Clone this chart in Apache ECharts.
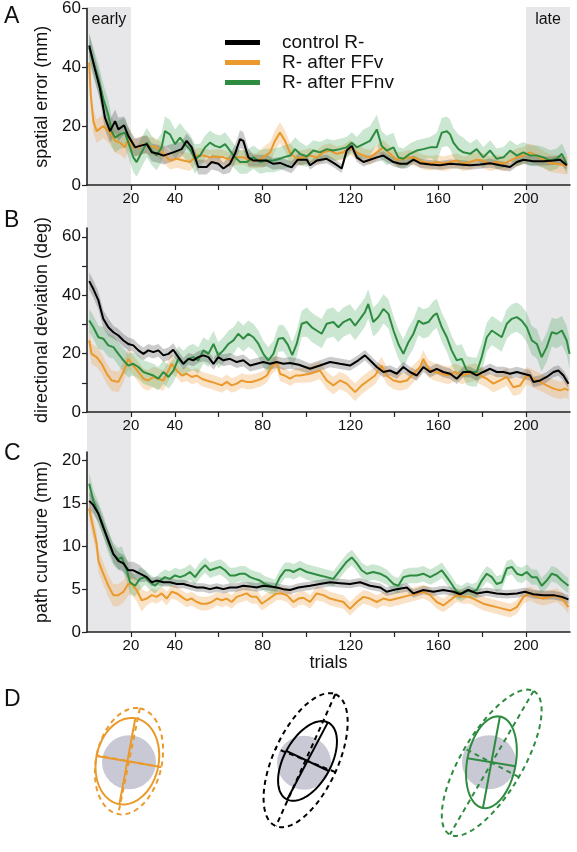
<!DOCTYPE html>
<html><head><meta charset="utf-8">
<script src="https://cdn.jsdelivr.net/npm/echarts@6/dist/echarts.min.js"></script>
<style>html,body{margin:0;padding:0;background:#fff}#c{width:577px;height:852px}</style>
</head><body><div id="c"></div>
<script>
// ---------- DATA ----------
const seriesNames = ['control R-', 'R- after FFv', 'R- after FFnv'];
const xTicks = [20, 40, 60, 80, 100, 120, 140, 160, 180, 200];
const xTickLabels = [20, 40, 80, 120, 160, 200];
const earlyRange = [0, 20];
const lateRange = [200, 220];

// Panel A: spatial error (mm)
const A_ctrl = [[1,47.4],[3.6,39.4],[5.9,32.8],[8.2,22.8],[10.5,18.3],[12.8,21.7],[14.3,18.9],[16.9,20.3],[18.8,16.7],[21.9,12.8],[24.1,13.3],[27.2,13.9],[29.5,11.1],[32.5,10.6],[34.8,10],[39.3,11.1],[43.1,12.2],[45.4,15],[47.7,12.8],[50.7,6.1],[54.5,6.1],[56.8,7.8],[59.8,7.2],[62.1,5.6],[65.1,7.2],[67.4,10.6],[69.7,15.6],[71.2,15],[73.5,9.4],[75.8,8.3],[78.8,8.3],[81.9,8.3],[84.9,7.2],[87.9,7.5],[91,6.6],[93.2,6],[96,8.6],[100.1,8.6],[101.6,6.7],[104.6,8.3],[109.2,8.9],[113,7.2],[116,5.6],[118.3,11.7],[120.6,13.3],[122.9,9.4],[125.9,7.8],[128.9,8.6],[132,9.4],[135,10],[137.3,8.9],[139.6,7.8],[142.6,7.2],[145.7,7.2],[148.7,8.6],[151.7,7.4],[156.3,7],[160.8,6.7],[165.4,7.2],[170,7],[174.5,6.7],[179.1,7],[183.6,7.4],[188.2,6.7],[192.7,6.1],[195.8,7.8],[198.8,8.6],[203.3,8.1],[207.9,8.1],[212.5,8.3],[215.5,8.6],[218.5,6.7]];
const A_ffv = [[1,41.7],[1.7,30.6],[2.9,21.7],[4.4,18.3],[7.4,20],[10.5,17.8],[12.8,15],[15,14.4],[17.3,12.8],[18.8,15.6],[21.1,12.8],[23.4,12.8],[25.7,13.9],[28.7,13.3],[31.7,12.8],[34.8,10.6],[37.8,8.3],[40.9,8.9],[43.9,8.3],[46.9,7.8],[50,10],[53,10],[56,9.4],[59.1,9.7],[62.1,9.4],[65.1,8.6],[68.2,9.4],[71.2,9.4],[74.3,8.3],[77.3,8.3],[80.3,9.4],[83.4,11.1],[85.6,15],[87.9,17.8],[90.2,15],[92.5,10.8],[95.5,9.1],[98.6,9.4],[101.6,10],[104.6,9.4],[107.7,11.1],[110.7,11.7],[113.7,10.6],[116.8,11.1],[119.8,12.8],[122.9,11.1],[125.9,10],[128.9,9.4],[132,11.1],[135,12.8],[138,10.6],[141.1,8.6],[144.1,8.9],[147.1,9.4],[150.2,8.9],[153.2,7.8],[156.3,7.4],[159.3,7.8],[162.3,7.2],[165.4,7.8],[168.4,8.3],[171.4,7.2],[174.5,7.8],[177.5,8.6],[180.5,8.3],[183.6,7.2],[186.6,7.8],[189.7,7.2],[192.7,8.3],[195.8,9.4],[198.8,10],[201.8,11.1],[204.9,10],[207.9,8.6],[210.9,7.4],[214,7.2],[217,6.7],[219,6.7]];
const A_ffnv = [[1,46.7],[2.9,41.7],[5.2,36.1],[7.4,29.4],[9.7,23.9],[11.2,18.3],[12.8,16.1],[15,17.2],[17.3,17.8],[19.6,12.8],[21.1,9.4],[22.6,7.8],[24.9,11.1],[27.2,14.4],[29.5,11.7],[31.7,10],[34,12.8],[35.5,18.3],[37.8,17.2],[40.1,13.9],[42.4,16.1],[44.6,13.9],[46.9,12.2],[49.2,8.9],[51.5,10],[53.8,12.8],[56,14.4],[58.3,13.3],[60.6,12.8],[62.9,13.9],[65.1,11.7],[67.4,9.4],[69.7,7.8],[72.7,7.8],[75.8,9.4],[78.8,7.8],[81.9,8.3],[84.9,8.3],[87.9,8.9],[89.4,9.4],[92.5,10],[94.8,12.2],[97,10.6],[100.1,9.7],[103.1,11.7],[106.1,11.1],[109.2,12.2],[112.2,11.7],[115.2,12.2],[118.3,12.8],[120.6,14.4],[122.9,12.8],[125.9,13.9],[128.9,15],[132,18.9],[134.2,13.3],[136.5,11.7],[139.6,12.8],[141.8,9.4],[144.1,8.9],[147.1,10.6],[150.2,11.7],[153.2,12.2],[156.3,12.8],[159.3,12.8],[161.6,17.8],[163.9,18.3],[165.4,17.2],[166.9,14.4],[169.2,12.2],[171.4,11.1],[174.5,10.6],[177.5,12.2],[180.5,9.4],[183.6,11.7],[186.6,8.9],[189.7,9.4],[192.7,11.7],[195.8,10],[198.8,11.1],[201.8,10],[204.9,10],[207.9,9.4],[210.9,8.3],[214,8.9],[216.3,10.6],[218.5,7.2]];
const A_ctrl_sd = [[0,4],[16,3],[40,2.5],[60,2],[65,3],[75,2],[100,1.5]];
const A_ffv_sd = [[0,4],[20,3],[50,2.5],[80,3.5],[95,2.5],[190,3]];
const A_ffnv_sd = [[0,5],[50,4],[100,3.5],[125,5],[140,3.5],[158,5],[172,3.5]];

// Panel B: directional deviation (deg)
const B_ctrl = [[1,44.8],[2.9,42.1],[5.2,38.2],[7.4,31.9],[9.7,29],[12,27.3],[14.3,26.2],[16.6,24.5],[18.8,23.3],[21.1,22.8],[23.4,21.1],[25.7,19.9],[27.9,21.1],[30.2,20.5],[32.5,21.1],[34.8,19.4],[37.1,19.9],[39.3,21.3],[41.6,18.8],[43.9,16.5],[46.2,18.2],[48.4,17.7],[50.7,18.8],[53,19.4],[55.3,18.8],[57.6,16.5],[59.8,18.8],[62.1,17.7],[65.1,18.2],[68.2,17.1],[71.2,17.7],[74.3,15.9],[77.3,16.5],[80.3,17.1],[83.4,16.5],[86.4,17.1],[89.4,16.5],[92.5,16.8],[96.5,16.2],[101.6,14.8],[106.1,15.9],[110.7,17.1],[115.2,16.5],[119.8,15.9],[123.6,17.7],[126.6,19.4],[128.9,17.7],[132,15.4],[135,13.7],[138,14.2],[141.1,13.1],[144.1,15.4],[147.1,13.7],[150.2,12.5],[153.2,15.4],[156.3,13.7],[159.3,14.8],[162.3,13.7],[165.4,13.1],[168.4,11.4],[171.4,13.7],[174.5,13.7],[177.5,12.5],[180.5,13.7],[183.6,14.8],[186.6,13.7],[189.7,13.7],[192.7,13.1],[195.8,13.7],[198.8,13.1],[201.8,12.5],[203.3,10.3],[206.4,10.8],[209.4,12],[212.5,13.7],[214.7,14.2],[217,12.5],[219.3,9.7]];
const B_ffv = [[1,24.5],[2.1,19.9],[4.4,18.8],[6.7,16.5],[9,13.1],[11.2,10.8],[14.3,10.3],[16.6,13.7],[18.8,18.2],[21.1,15.9],[23.4,13.7],[25.7,11.4],[27.9,10.8],[30.2,12],[32.5,11.4],[34.8,10.8],[37.1,14.2],[38.6,16.5],[40.9,14.2],[43.1,12.5],[45.4,13.1],[47.7,12],[50,12.5],[52.2,11.4],[54.5,10.8],[56.8,10.3],[59.1,9.7],[61.4,9.1],[63.6,10.3],[65.9,9.1],[68.2,9.7],[70.5,10.8],[72.7,10.3],[75,10.3],[77.3,10.8],[79.6,11.4],[81.9,12.5],[84.1,15.4],[86.4,17],[88,13],[90,12.5],[92.5,11.4],[95,12.5],[97,12.5],[101.6,13.1],[106.1,14.2],[109.2,10.8],[112.2,9.1],[115.2,10.8],[118.3,9.7],[122.1,6.8],[125.1,9.1],[128.1,10.8],[131.2,12.5],[134.2,15.9],[136.5,12.5],[139.6,10.8],[142.6,10.3],[145.7,10.8],[148.7,13.1],[151.7,15.4],[153.2,18.2],[155.5,14.8],[158.5,13.7],[161.6,13.1],[164.6,12.5],[167.6,13.7],[170.7,12.5],[173.7,13.1],[176.8,13.7],[179,12.5],[182.1,11.4],[185.1,9.7],[188.1,10.8],[191.2,12],[194.2,8.5],[197.3,9.1],[200.3,12.5],[203.3,11.4],[206.4,10.3],[209.4,9.1],[212.5,8],[215.5,7.4],[217.8,8],[219.3,7.4]];
const B_ffnv = [[1,31.3],[2.9,29],[5.2,25.6],[7.4,25.1],[9.7,22.8],[12,22.2],[14.3,19.9],[16.6,17.7],[18.8,15.9],[21.1,16.5],[23.4,15.4],[25.7,13.7],[27.9,13.1],[30.2,12.5],[32.5,11.4],[34.8,13.7],[37.1,12],[39.4,14.2],[41.6,18.2],[43.9,16.5],[46.2,18.2],[48.4,18.8],[50.7,17.7],[53,21.1],[55.3,19.9],[57.6,23.3],[59.8,19.4],[62.1,21.1],[64.4,23.3],[66.7,24.5],[68.9,26.8],[71.2,25.1],[73.5,26.8],[75.8,25.6],[78.1,23.3],[80.3,19.9],[82.6,17.7],[84.9,19.9],[87.2,25.1],[89.4,25.3],[91.5,23],[93.5,19.5],[95.5,23.3],[97.8,30.2],[100.1,30.8],[102.4,29],[104.6,27.9],[106.9,26.8],[109.2,30.2],[112.2,30.8],[114.5,29],[116.8,30.8],[119.8,31.9],[122.1,29.6],[124.4,31.9],[126.6,34.2],[128.1,37],[130.4,30.8],[132.7,32.5],[135,35.3],[137.3,33.6],[139.6,27.9],[141.8,23.3],[144.1,19.9],[146.4,23.9],[148.7,26.8],[151,31.3],[153.2,30.2],[155.5,30.8],[157.8,33],[159.3,33.8],[161.6,29],[163.9,25.6],[166.1,21.1],[168.4,17.7],[170.7,18.2],[173,14.2],[175.3,13.7],[177.5,13.7],[179.8,18.8],[182.1,25.6],[184.4,27.9],[186.6,26.8],[188.9,25.6],[191.2,30.2],[193.5,31.9],[195.8,32.5],[198,31.3],[200.3,29],[202.6,24.5],[204.9,23.3],[207.1,18.8],[209.4,22.2],[211.7,27.3],[214,26.8],[216.3,27.9],[218.5,24.5],[219.8,19.9]];
const B_ctrl_sd = [[0,3],[12,2.2],[40,2],[100,1.8]];
const B_ffv_sd = [[0,3.5],[40,2.5],[100,3]];
const B_ffnv_sd = [[0,4],[40,4.5],[100,5]];

// Panel C: path curvature (mm)
const C_ctrl = [[1,15.3],[2.9,14.8],[5.2,13.8],[7.4,12.2],[9.7,10.7],[12,9.1],[14.3,8.3],[16.6,8],[18.8,7.2],[21.1,7.2],[24.1,6.8],[27.2,6.4],[29.5,5.8],[31.7,6],[34.8,5.8],[37.8,5.8],[40.9,5.6],[43.9,5.6],[46.9,5.4],[50,5.2],[53,5.2],[56,5],[59.1,5.2],[62.1,5],[65.1,5.2],[68.2,5.2],[71.2,5.4],[74.3,5.3],[77.3,5.2],[80.3,5.4],[83.4,5.3],[86.4,5.2],[89.4,5],[92.5,4.9],[96.3,5.2],[101.6,5.4],[106.1,5.6],[110.7,5.8],[115.2,5.7],[119.8,5.6],[124.4,5.8],[128.9,5.4],[133.5,5.2],[136.5,4.7],[141.1,5],[145.7,5.2],[148.7,4.5],[153.2,4.9],[157.8,4.7],[162.3,4.9],[166.9,4.7],[169.9,4.4],[173.7,4.9],[177.5,4.5],[182.1,4.7],[186.6,4.5],[191.2,4.4],[195.8,4.5],[199.5,4.7],[203.3,4.4],[207.9,4.3],[212.5,4.3],[216.3,4.1],[219.3,3.8]];
const C_ffv = [[1,14.4],[2.1,13],[4.4,10.3],[5.2,8.3],[7.4,6.8],[9.7,5.4],[12,4.3],[14.3,4.3],[16.6,4.7],[18.8,5.6],[20.4,5.6],[22.6,4.9],[24.9,3.7],[27.2,3.9],[29.5,4.3],[31.7,4.1],[34,4.5],[36.3,3.9],[38.6,4.7],[40.9,4.5],[43.1,4.1],[45.4,3.7],[47.7,3.9],[50,3.5],[52.2,3.3],[54.5,3.3],[56.8,3.5],[59.1,3.9],[61.4,3.7],[63.6,3.9],[65.9,3.5],[68.2,4.1],[70.5,4.3],[72.7,4.5],[75,4.1],[77.3,4.1],[79.6,3.3],[81.9,3.7],[84.1,4.1],[86.4,4.5],[88.7,4.5],[91,4.3],[94,3.5],[96.3,3.9],[98.6,4],[101.6,3.5],[104.6,4.5],[107.7,4.3],[110.7,3.9],[113.7,3.7],[116.8,3.5],[119.8,2.7],[122.9,3.5],[125.9,4.1],[128.9,3.9],[132,3.5],[135,3.9],[138,3.7],[141.1,3.9],[144.1,4.1],[147.1,4.3],[150.2,4.5],[153.2,4.7],[156.3,4.3],[159.3,3.5],[162.3,3.1],[165.4,3.7],[168.4,4.3],[171.4,4.1],[174.5,4.1],[177.5,3.7],[180.5,3.3],[183.6,3.1],[186.6,2.9],[189.7,2.7],[192.7,2.5],[195.8,2.9],[198.8,4.1],[201.8,4.5],[204.9,4.1],[207.9,3.9],[210.9,4.1],[214,4.3],[217,3.7],[219.3,2.9]];
const C_ffnv = [[1,17.3],[2.9,15.3],[5.2,13.8],[7.4,12.4],[9.7,10.5],[12,9.1],[14.3,8.5],[15.8,8.7],[18.1,7.2],[19.6,5.8],[21.9,5.4],[24.1,6.2],[26.4,6.4],[28.7,5.8],[31,5.4],[33.3,6],[35.5,6.4],[37.8,6.2],[40.1,6.6],[42.4,6.4],[44.6,6.6],[46.9,7],[49.2,6.4],[51.5,7.2],[53.8,7.8],[56,7.2],[58.3,7.4],[60.6,7.6],[62.9,7.2],[65.1,6.6],[67.4,6.6],[69.7,6.8],[72,6.8],[74.3,6.4],[76.5,6.2],[78.8,6],[81.1,5.6],[83.4,5.4],[85.6,5.2],[87.9,6.4],[90.2,7.2],[92.5,7.2],[94,7],[97,7.4],[100.1,7],[103.1,6.8],[106.1,6.6],[109.2,6.4],[112.2,6.2],[115.2,7.2],[118.3,8.2],[120.6,8.7],[122.9,8],[125.1,7.2],[127.4,6.8],[130.4,7],[133.5,6.8],[136.5,6.4],[139.6,5.6],[141.8,5.4],[144.1,6.4],[147.1,6.6],[150.2,6.6],[153.2,6.8],[156.3,6.4],[159.3,6.8],[161.6,7.2],[163.9,6.4],[166.1,5.6],[168.4,4.7],[170.7,4.5],[173,4.9],[175.3,4.7],[177.5,4.9],[179.8,6],[182.1,6.8],[184.4,6.4],[186.6,5.6],[188.9,5.8],[191.2,7.4],[193.5,7.6],[195.8,6.8],[198,6.6],[200.3,7],[202.6,6.4],[204.9,6.4],[207.1,5.4],[209.4,6],[211.7,6.8],[214,6.6],[216.3,6],[219.3,5.4]];
const C_ctrl_sd = [[0,1],[25,0.5]];
const C_ffv_sd = [[0,1.3],[25,0.8]];
const C_ffnv_sd = [[0,1.3],[25,0.9]];

// Panel D: endpoint ellipses, in target-radius units: [cx, cy, semiMajor, semiMinor, tiltDeg(clockwise from vertical), dashed]
const D_target = [[0, 0, 1]];
const D_ffv = [[-0.06, 0.04, 1.70, 1.16, 10, 0], [0.0, 0.04, 2.10, 1.22, 11, 1]];
const D_ctrl = [[0.13, 0.07, 1.69, 0.88, 26.5, 0], [0.06, 0.10, 2.81, 1.20, 23, 1]];
const D_ffnv = [[0.09, 0.0, 1.81, 0.90, 10, 0], [0.10, -0.02, 3.20, 1.15, 29, 1]];

// ---------- STYLE / LAYOUT ----------
const FONT = 'Liberation Sans, Arial, Helvetica, sans-serif';
const colors = {ctrl: '#000000', ffv: '#EA9A2C', ffnv: '#2E8C40'};
const bandColors = {ctrl: 'rgba(70,70,70,0.28)', ffv: 'rgba(240,165,80,0.32)', ffnv: 'rgba(70,165,90,0.28)'};
const axisColor = '#222';

const panels = [
  {top: 5, height: 180, max: 60, yTicks: [0,20,40,60], yLabels: [0,20,40,60], name: 'spatial error (mm)',
   lines: {ctrl: A_ctrl, ffv: A_ffv, ffnv: A_ffnv}, sds: {ctrl: A_ctrl_sd, ffv: A_ffv_sd, ffnv: A_ffnv_sd}},
  {top: 228, height: 184, max: 63, yTicks: [0,10,20,30,40,50,60], yLabels: [0,20,40,60], name: 'directional deviation (deg)',
   lines: {ctrl: B_ctrl, ffv: B_ffv, ffnv: B_ffnv}, sds: {ctrl: B_ctrl_sd, ffv: B_ffv_sd, ffnv: B_ffnv_sd}},
  {top: 452, height: 180, max: 21, yTicks: [0,5,10,15,20], yLabels: [0,5,10,15,20], name: 'path curvature (mm)',
   lines: {ctrl: C_ctrl, ffv: C_ffv, ffnv: C_ffnv}, sds: {ctrl: C_ctrl_sd, ffv: C_ffv_sd, ffnv: C_ffnv_sd}, xName: 'trials'}
];
const keyName = {ctrl: seriesNames[0], ffv: seriesNames[1], ffnv: seriesNames[2]};

function sdAt(sd, t) { let v = sd[0][1]; for (const [from, val] of sd) if (t >= from) v = val; return v; }

// band drawn as one polygon through the axis scales: points [t, lo, hi]
function makeBandRenderer(pts, color) {
  return function (params, api) {
    if (params.dataIndex !== 0) return null;
    const upper = pts.map(p => api.coord([p[0], p[2]]));
    const lower = pts.map(p => api.coord([p[0], p[1]])).reverse();
    return {type: 'polygon', shape: {points: upper.concat(lower)}, style: {fill: color, stroke: null}};
  };
}

const grids = [], xAxes = [], yAxes = [], series = [];
panels.forEach((p, i) => {
  grids.push({left: 87, right: 7, top: p.top, height: p.height});
  xAxes.push({type: 'value', gridIndex: i, min: 0, max: 220, z: 5,
    axisLine: {onZero: false, lineStyle: {color: axisColor, width: 1.6}},
    axisTick: {customValues: xTicks, length: 5, lineStyle: {color: axisColor, width: 1.2}},
    axisLabel: {customValues: xTickLabels, fontSize: 15, color: '#111', margin: 6, fontFamily: FONT},
    splitLine: {show: false},
    name: p.xName || '', nameLocation: 'middle', nameGap: 17,
    nameTextStyle: {fontSize: 18, color: '#111', fontFamily: FONT}});
  yAxes.push({type: 'value', gridIndex: i, min: 0, max: p.max, z: 5,
    axisLine: {show: true, lineStyle: {color: axisColor, width: 1.6}},
    axisTick: {show: true, customValues: p.yTicks, length: 5, lineStyle: {color: axisColor, width: 1.2}},
    axisLabel: {customValues: p.yLabels, fontSize: 17, color: '#111', margin: 6, fontFamily: FONT},
    splitLine: {show: false},
    name: p.name, nameLocation: 'middle', nameGap: 36,
    nameTextStyle: {fontSize: 18, color: '#111', fontFamily: FONT}});
  const order = ['ffv', 'ffnv', 'ctrl'];
  order.forEach(k => {
    const d = p.lines[k], sd = p.sds[k];
    const band = d.map(([t, v]) => [t, v - sdAt(sd, t), v + sdAt(sd, t)]);
    series.push({type: 'custom', xAxisIndex: i, yAxisIndex: i, silent: true, z: 1,
      encode: {x: 0, y: [1, 2]}, renderItem: makeBandRenderer(band, bandColors[k]), data: band});
  });
  order.forEach(k => {
    series.push({type: 'line', name: keyName[k], xAxisIndex: i, yAxisIndex: i, symbol: 'none',
      lineStyle: {color: colors[k], width: 2}, itemStyle: {color: colors[k]},
      data: p.lines[k], z: 3});
  });
});

// Background shading grid (early / late) spanning all three panels
grids.push({left: 87, right: 7, top: 7, height: 625});
xAxes.push({type: 'value', gridIndex: 3, min: 0, max: 220, show: false});
yAxes.push({type: 'value', gridIndex: 3, min: 0, max: 1, show: false});
series.push({type: 'line', xAxisIndex: 3, yAxisIndex: 3, data: [], silent: true, z: 0,
  markArea: {silent: true, z: 0, itemStyle: {color: '#E7E7E9'},
    label: {show: true, position: 'insideTop', distance: 5, fontSize: 16, color: '#111', fontFamily: FONT},
    data: [[{name: 'early', xAxis: earlyRange[0]}, {xAxis: earlyRange[1]}],
           [{name: 'late', xAxis: lateRange[0]}, {xAxis: lateRange[1]}]]}});

// Panel D grids (one per group, centred on the target)
const dCentres = [[129, 767], [304, 768], [489, 767]];
const dGroups = [{data: D_ffv, color: colors.ffv}, {data: D_ctrl, color: colors.ctrl}, {data: D_ffnv, color: colors.ffnv}];
function renderTarget(params, api) {
  const c = api.coord([api.value(0), api.value(1)]);
  const r = api.size([api.value(2), 0])[0];
  return {type: 'circle', shape: {cx: c[0], cy: c[1], r: r}, style: {fill: '#C9C9D6', stroke: null}};
}
function makeEllipseRenderer(color) {
  return function (params, api) {
    const cx = api.value(0), cy = api.value(1), a = api.value(2), b = api.value(3);
    const ang = api.value(4) * Math.PI / 180, dashed = api.value(5) > 0;
    const ux = Math.sin(ang), uy = Math.cos(ang), vx = Math.cos(ang), vy = -Math.sin(ang);
    const pts = [];
    for (let k = 0; k <= 120; k++) {
      const th = 2 * Math.PI * k / 120;
      pts.push(api.coord([cx + a * Math.cos(th) * ux + b * Math.sin(th) * vx,
                          cy + a * Math.cos(th) * uy + b * Math.sin(th) * vy]));
    }
    const p1 = api.coord([cx + a * ux, cy + a * uy]), p2 = api.coord([cx - a * ux, cy - a * uy]);
    const q1 = api.coord([cx + b * vx, cy + b * vy]), q2 = api.coord([cx - b * vx, cy - b * vy]);
    const style = {stroke: color, lineWidth: 2, fill: null, lineDash: dashed ? [5, 4] : null};
    return {type: 'group', children: [
      {type: 'polyline', shape: {points: pts}, style: style},
      {type: 'line', shape: {x1: p1[0], y1: p1[1], x2: p2[0], y2: p2[1]}, style: style},
      {type: 'line', shape: {x1: q1[0], y1: q1[1], x2: q2[0], y2: q2[1]}, style: style}
    ]};
  };
}
dGroups.forEach((g, j) => {
  const gi = 4 + j;
  const [cx, cy] = dCentres[j];
  grids.push({left: cx - 81, top: cy - 94.5, width: 162, height: 189});
  xAxes.push({type: 'value', gridIndex: gi, min: -3, max: 3, show: false});
  yAxes.push({type: 'value', gridIndex: gi, min: -3.5, max: 3.5, show: false});
  series.push({type: 'custom', xAxisIndex: gi, yAxisIndex: gi, silent: true, z: 2,
    renderItem: renderTarget, data: D_target});
  series.push({type: 'custom', xAxisIndex: gi, yAxisIndex: gi, silent: true, z: 3,
    renderItem: makeEllipseRenderer(g.color), data: g.data});
});

const chart = echarts.init(document.getElementById('c'), null, {renderer: 'canvas'});
chart.setOption({
  animation: false,
  backgroundColor: '#fff',
  textStyle: {fontFamily: FONT},
  grid: grids, xAxis: xAxes, yAxis: yAxes, series: series,
  legend: {data: seriesNames, left: 220, top: 28, orient: 'vertical', icon: 'rect',
    itemWidth: 35, itemHeight: 5, itemGap: 1, selectedMode: false,
    textStyle: {fontSize: 19, color: '#111', fontFamily: FONT, padding: [0, 0, 0, 17]}},
  graphic: [
    {type: 'text', left: 4, top: 5, style: {text: 'A', fontSize: 23, fill: '#111', fontFamily: FONT}},
    {type: 'text', left: 4, top: 209, style: {text: 'B', fontSize: 23, fill: '#111', fontFamily: FONT}},
    {type: 'text', left: 4, top: 442, style: {text: 'C', fontSize: 23, fill: '#111', fontFamily: FONT}},
    {type: 'text', left: 4, top: 688, style: {text: 'D', fontSize: 23, fill: '#111', fontFamily: FONT}}
  ]
});
</script>
</body></html>
